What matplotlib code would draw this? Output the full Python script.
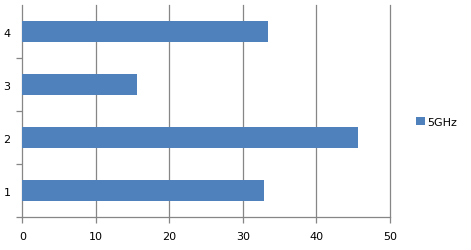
import matplotlib
matplotlib.use("Agg")
import matplotlib.pyplot as plt
import numpy as np

categories = ["1", "2", "3", "4"]
values_5ghz = [32.9, 45.6, 15.6, 33.4]
x_ticks = [0, 10, 20, 30, 40, 50]
series_name = "5GHz"

W, H = 471, 251
fig = plt.figure(figsize=(W / 100, H / 100), dpi=100)
ax = fig.add_axes([22.3 / W, 1 - 218.3 / H, (390 - 22.3) / W, (218.3 - 6) / H])

grey = "#868686"
pos = np.arange(len(categories))
ax.barh(pos, values_5ghz, height=0.4, color="#4F81BD", label=series_name, zorder=3)

ax.set_xlim(0, 50)
ax.set_ylim(-0.5, len(categories) - 0.5)
ax.set_xticks(x_ticks)
ax.set_xticklabels([str(t) for t in x_ticks])
for t in x_ticks[1:]:
    ax.axvline(t, color=grey, linewidth=0.9, zorder=1, clip_on=False)

ax.set_yticks(np.arange(-0.5, len(categories) - 1, 1.0))
ax.set_yticklabels([])
ax.set_yticks(pos, minor=True)
ax.set_yticklabels(categories, minor=True)

ax.tick_params(axis="x", which="major", length=4, width=0.9, color=grey, pad=6, labelsize=8)
ax.tick_params(axis="y", which="major", length=4, width=0.9, color=grey)
ax.tick_params(axis="y", which="minor", length=0, pad=8.5, labelsize=8)

for s in ["top", "right"]:
    ax.spines[s].set_visible(False)
for s in ["left", "bottom"]:
    ax.spines[s].set_color(grey)
    ax.spines[s].set_linewidth(0.9)

fig.legend(loc="center left", bbox_to_anchor=(416 / W, 1 - 122.5 / H), frameon=False,
           fontsize=8, handlelength=0.8, handleheight=0.7, handletextpad=0.2, borderpad=0,
           borderaxespad=0)

fig.savefig("out.png", dpi=100)
